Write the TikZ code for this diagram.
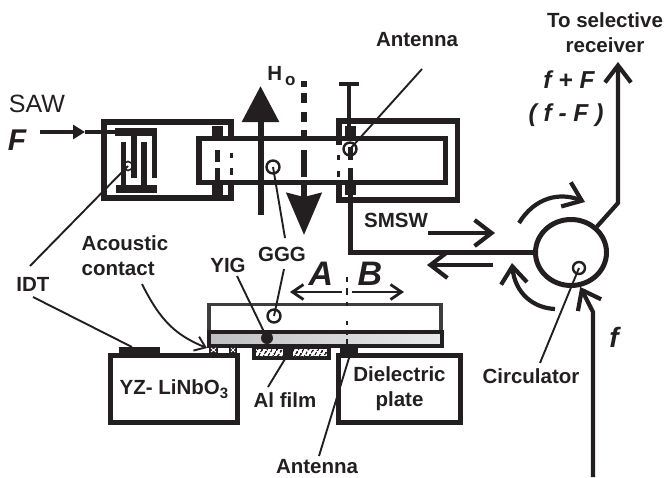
\documentclass[tikz,border=0pt]{standalone}
\usepackage{fontspec}
\setmainfont{Liberation Sans}
\usetikzlibrary{
  arrows.meta,
  shapes.geometric,
  patterns.meta,
  positioning
}
\definecolor{figblack}{RGB}{35, 31, 32}
\definecolor{gggcolor}{RGB}{62, 60, 61}
\definecolor{yigdark}{RGB}{190, 191, 193}
\definecolor{yiglight}{RGB}{232, 233, 235}
\tikzset{
boldlabel/.style={
  font=\fontsize{20.5}{25}\selectfont\bfseries,
  text=figblack,
  align=center,
  inner sep=1pt
},
maglabel/.style={
  font=\fontsize{24.5}{35}\selectfont\bfseries\itshape,
  text=figblack,
  align=center,
  inner sep=1pt
},
devicebox/.style={
  draw=figblack,
  line width=5.2pt,
  minimum width=127pt,
  minimum height=67pt,
  inner sep=0pt,
  boldlabel
},
wall/.style={
  draw=figblack,
  line width=5.5pt
},
leader/.style={
  draw=figblack,
  line width=1.9pt
},
feed/.style={
  draw=figblack,
  line width=4.8pt
},
probe/.style={
  draw=figblack,
  line width=2.4pt,
  circle,
  minimum size=13pt,
  inner sep=0pt
},
padblock/.style={
  fill=figblack,
  minimum width=11pt,
  minimum height=11pt,
  inner sep=0pt
},
openarrow/.style={
  -{Straight Barb[length=17pt,width=26pt]},
  draw=figblack,
  line width=4.2pt
},
thinarrow/.style={
  -{Straight Barb[length=11pt,width=15pt]},
  draw=figblack,
  line width=2.8pt
}
}
\begin{document}
\begin{tikzpicture}[x=1pt, y=-1pt]
  \useasboundingbox (0,0) rectangle (667,477);

  % --- SAW input and IDT ---
  \node[font=\fontsize{25}{25}\selectfont, text=figblack, inner sep=1pt] (sawlabel) at (37,104) {SAW};
  \node[maglabel, font=\fontsize{30}{30}\selectfont\bfseries\itshape] (Flabel) at (17,140) {F};
  \draw[wall] (231,136) -- (231,122) -- (104,122) -- (104,198) -- (231,198) -- (231,185);
  \node[fill=figblack, minimum width=42pt, minimum height=8pt, inner sep=0pt] (idttop) at (136,132) {};
  \node[fill=figblack, minimum width=41pt, minimum height=8pt, inner sep=0pt] (idtbot) at (136.5,189) {};
  \fill[figblack] (131,132) rectangle (136.5,178);
  \fill[figblack] (151.5,132) rectangle (157,178);
  \fill[figblack] (120.5,142) rectangle (126,189);
  \fill[figblack] (141,142) rectangle (146.5,189);
  \coordinate (sawstart) at (40,132);
  \coordinate (sawmid) at (85,132);
  \draw[draw=figblack, line width=4pt, -{Triangle[length=12pt,width=14pt]}] (sawstart) -- (sawmid);
  \draw[draw=figblack, line width=4pt] (sawmid) -- (idttop.west);
  \node[probe, minimum size=9pt, line width=1.6pt] (idtprobe) at (128,166) {};

  % --- film loop and antennas ---
  \draw[wall] (339,145) -- (339,121) -- (457.5,121) -- (457.5,200) -- (339,200) -- (339,185);
  \draw[wall] (445.5,138.5) rectangle (199,182.5);
  \draw[draw=figblack, line width=3pt] (231,153) -- (231,158) (231,168) -- (231,175);
  \draw[draw=figblack, line width=3pt] (338,155) -- (338,160) (338,171) -- (338,177);
  \node[padblock, minimum height=12pt] (ant1top) at (217,132) {};
  \node[padblock, minimum height=10pt] (ant1bot) at (217.5,189.5) {};
  \draw[draw=figblack, line width=5pt] (217,150) -- (217,162) (217,168) -- (217,185);
  \node[padblock, minimum height=12pt] (ant2top) at (350,132) {};
  \node[padblock, minimum height=10pt] (ant2bot) at (350.5,189.5) {};
  \draw[draw=figblack, line width=5pt] (350,147) -- (350,160) (350,168) -- (350,185);
  \coordinate (teeleft) at (339,84);
  \coordinate (teeright) at (359,84);
  \coordinate (teemid) at (349,84);
  \draw[draw=figblack, line width=4.6pt] (teeleft) -- (teeright);
  \draw[draw=figblack, line width=4.6pt] (teemid) -- (ant2top.north -| teemid);
  \node[probe] (antprobe) at (350,149) {};
  \node[probe] (gggprobe) at (273,167) {};

  % --- bias field ---
  \node[boldlabel] (Hlabel) at (281.5,76) {H\kern3pt\raisebox{-5pt}{\fontsize{17}{17}\selectfont o}};
  \coordinate (uptail) at (260.5,215);
  \coordinate (uptip) at (260.5,86);
  \draw[draw=figblack, line width=6pt, -{Triangle[length=36pt,width=36pt]}] (uptail) -- (uptip);
  \coordinate (downtop) at (304,81);
  \coordinate (downend) at (304,196);
  \coordinate (downtip) at (304,235);
  \draw[draw=figblack, line width=6pt, dash pattern=on 6pt off 6pt on 10pt off 9pt on 10pt off 8pt on 10pt off 10pt on 27pt off 8pt on 11pt] (downtop) -- (downend);
  \draw[draw=figblack, line width=6pt, -{Stealth[length=42pt,width=35pt,inset=4pt]}] (downend) -- (downtip);

  % --- circulator ---
  \node[draw=figblack, line width=5pt, ellipse, minimum width=71pt, minimum height=66pt, inner sep=0pt] (circulator) at (571,252.5) {};
  \node[probe, minimum size=12pt] (circprobe) at (579,268) {};
  \node[boldlabel] (circlabel) at (531,376) {Circulator};
  \coordinate (circfoot) at (540,363);
  \draw[leader] (circfoot) -- (circprobe.center);
  \draw[feed] (ant2bot.south) |- (circulator.west);
  \coordinate (outbend) at (618,203);
  \coordinate (outtip) at (618,62);
  \draw[openarrow] (circulator.45) -- (outbend) -- (outtip);
  \coordinate (inbot) at (593,477);
  \coordinate (inbend) at (593,312);
  \draw[openarrow] (inbot) -- (inbend) -- (circulator.-75);
  \coordinate (turnatail) at (519,223);
  \coordinate (turnatip) at (585,202);
  \coordinate (turnbtail) at (555,309);
  \coordinate (turnbtip) at (512,263);
  \draw[openarrow] (turnatail) .. controls (535,197) and (560,192) .. (turnatip);
  \draw[openarrow] (turnbtail) .. controls (533,308) and (515,293) .. (turnbtip);
  \node[boldlabel] (smswlabel) at (396,220) {SMSW};
  \coordinate (smswfrom) at (428,233);
  \coordinate (smswto) at (495,233);
  \coordinate (backfrom) at (493,265);
  \coordinate (backto) at (427,265);
  \draw[openarrow] (smswfrom) -- (smswto);
  \draw[openarrow] (backfrom) -- (backto);
  \node[maglabel, font=\fontsize{28}{28}\selectfont\bfseries\itshape] (fin) at (614,337) {f};

  % --- output labels ---
  \node[boldlabel] (recvlabel) at (605,33) {To selective\\receiver};
  \node[maglabel] (sumlabel) at (569,80) {f + F};
  \node[maglabel] (difflabel) at (566,115) {( f - F )};

  % --- layered structure ---
  \draw[draw=gggcolor, line width=3.6pt] (209,333) -- (209,304.5) -- (441,304.5) -- (441,333);
  \draw[draw=figblack, line width=4pt, left color=yigdark, right color=yiglight] (209,331.5) rectangle (442,345.5);
  \node[devicebox] (yzbox) at (174,389) {YZ- LiNbO\raisebox{-4pt}{\fontsize{15}{15}\selectfont 3}};
  \node[devicebox, minimum width=122pt] (dielbox) at (399.5,389) {Dielectric\\plate};
  \fill[figblack] (119,347) rectangle (160,354);
  \fill[figblack] (340,347) rectangle (358,354);
  \node[fill=figblack, minimum width=79pt, minimum height=12pt, inner sep=0pt] (alfilm) at (291.5,354) {};
  \fill[white] (256,349) rectangle (283,356);
  \fill[white] (293,349) rectangle (327,356);
  \fill[pattern={Lines[angle=60,distance=4pt,line width=1.6pt]}, pattern color=figblack] (256,349) rectangle (283,356);
  \fill[pattern={Lines[angle=60,distance=4pt,line width=1.6pt]}, pattern color=figblack] (293,349) rectangle (327,356);
  % acoustic contact
  \fill[figblack] (209,346) rectangle (218,353);
  \fill[figblack] (229,346) rectangle (237,353);
  \draw[white, line width=1pt] (211,348) -- (216,352) (216,348) -- (211,352);
  \draw[white, line width=1pt] (231,348) -- (235,352) (235,348) -- (231,352);
  \node[probe] (ggglow) at (274,316) {};
  \fill[figblack] (267,338) circle (6);
  \coordinate (yigdot) at (267,338);
  % A and B
  \coordinate (splitleft) at (342,292);
  \coordinate (splitright) at (352,292);
  \coordinate (atip) at (290,292);
  \coordinate (btip) at (404,292);
  \draw[thinarrow] (splitleft) -- (atip);
  \draw[thinarrow] (splitright) -- (btip);
  \node[maglabel, font=\fontsize{34}{34}\selectfont\bfseries\itshape] (Alabel) at (321,274) {A};
  \node[maglabel, font=\fontsize{34}{34}\selectfont\bfseries\itshape] (Blabel) at (370,274) {B};
  \draw[draw=figblack, line width=2.6pt, dash pattern=on 5pt off 6pt on 7pt off 7pt on 4pt off 15pt on 4pt off 7pt on 3pt off 4pt] (347,277) -- (347,347);

  % --- labels and leaders ---
  \node[boldlabel] (antlabel) at (417,40) {Antenna};
  \coordinate (antfoot) at (422,69);
  \draw[leader] (antfoot) -- (antprobe.center);
  \node[boldlabel] (gggl) at (282,254) {GGG};
  \coordinate (gggup) at (285,238);
  \coordinate (gggdown) at (284,269);
  \draw[leader] (gggup) -- (gggprobe.center);
  \draw[leader] (gggdown) -- (ggglow.center);
  \node[boldlabel] (yiglabel) at (228,265) {YIG};
  \coordinate (yigfoot) at (237,276);
  \draw[leader] (yigfoot) -- (yigdot);
  \node[boldlabel, align=left] (acoustlabel) at (125,256) {Acoustic\\contact};
  \coordinate (acfoot) at (142,284);
  \coordinate (actip) at (207,348);
  \draw[draw=figblack, line width=1.9pt, -{Straight Barb[length=10pt,width=15pt]}] (acfoot) .. controls (160,320) and (175,335) .. (actip);
  \node[boldlabel] (idtlabel) at (33,284) {IDT};
  \coordinate (idtup) at (30,266);
  \coordinate (idtdown) at (33,297);
  \coordinate (idtpad) at (132,347);
  \draw[leader] (idtup) -- (idtprobe.center);
  \draw[leader] (idtdown) -- (idtpad);
  \node[boldlabel] (allabel) at (285,400) {Al film};
  \coordinate (alfoot) at (268,387);
  \coordinate (alhead) at (285,359);
  \draw[leader] (alfoot) -- (alhead);
  \node[boldlabel] (lowantlabel) at (317,467) {Antenna};
  \coordinate (lowfoot) at (319,456);
  \coordinate (lowtop) at (349,358);
  \draw[leader] (lowfoot) -- (lowtop);
\end{tikzpicture}
\end{document}
